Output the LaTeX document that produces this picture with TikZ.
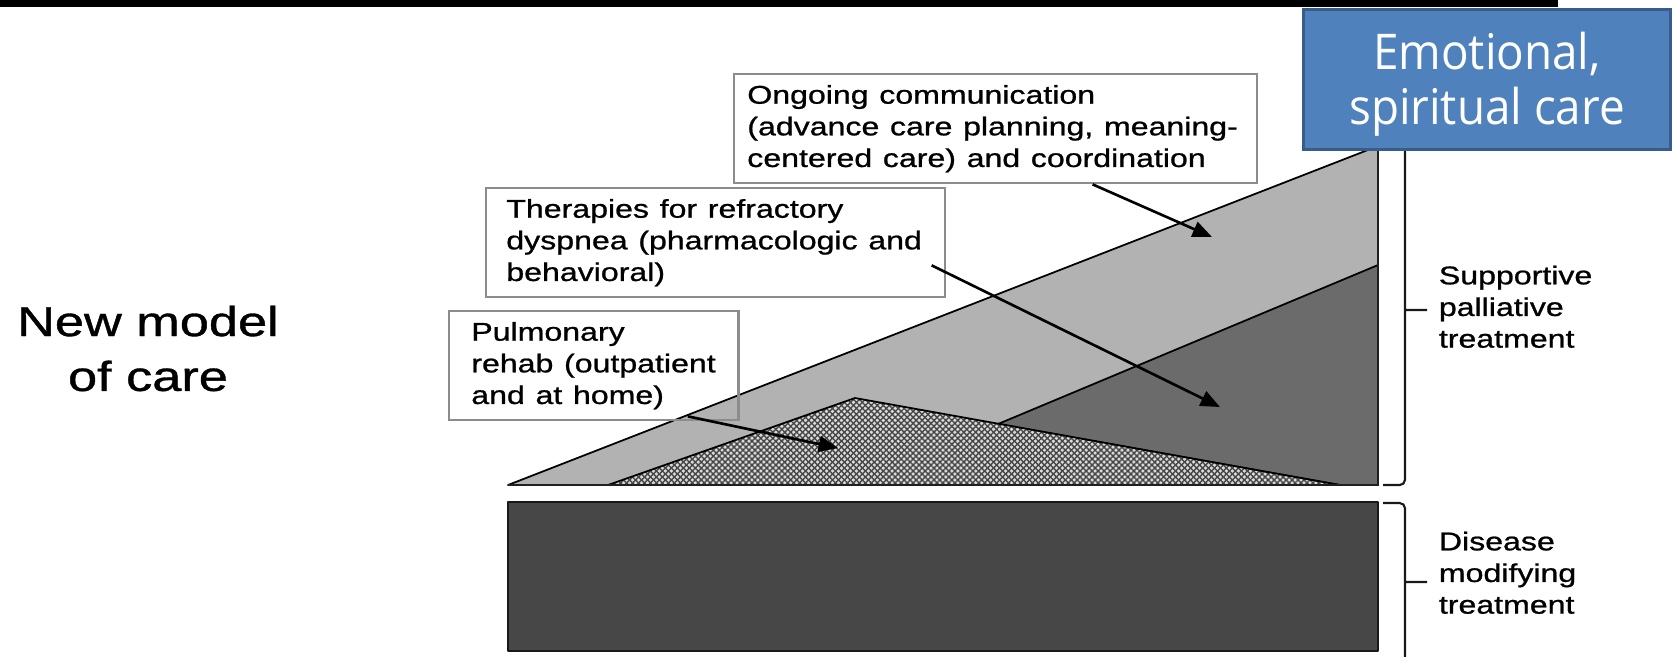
\documentclass[tikz,border=0pt]{standalone}
\usepackage{fontspec}
\usepackage{tikz}
\usetikzlibrary{arrows.meta,patterns.meta,calc}
\newfontfamily\figfont[FakeBold=0.8]{Liberation Sans}
\newfontfamily\slidefont{Open Sans}
\definecolor{zonelight}{gray}{0.70}
\definecolor{zonedark}{gray}{0.42}
\definecolor{zonedisease}{gray}{0.28}
\definecolor{hatchbg}{gray}{0.86}
\definecolor{hatchink}{gray}{0.28}
\definecolor{boxline}{gray}{0.55}
\definecolor{slideblue}{HTML}{4F81BD}
\definecolor{slideblueline}{HTML}{385D8A}

\begin{document}
\begin{tikzpicture}[x=0.01cm, y=-0.01cm,
	every node/.style={font=\figfont\fontsize{7.3pt}{9pt}\selectfont, inner sep=0pt},
	wide/.style={xscale=1.25},
	care/.style={wide, draw=boxline, line width=0.6pt, anchor=north west, align=left, inner ysep=0.11cm},
	edge/.style={line width=0.5pt, line join=round},
	bracket/.style={line width=0.6pt, gray!20!black, rounded corners=1.5pt},
	>={Triangle[length=5.5pt,width=4.5pt]}]
	\useasboundingbox (0,0) rectangle (1673,656);
	\filldraw[edge, fill=zonelight] (508,485) -- (1378,146) -- (1378,485) -- cycle;
	\filldraw[edge, fill=zonedark] (998,424) -- (1378,265) -- (1378,485) -- (1340,485) -- cycle;
	\path[fill=hatchbg,
		postaction={pattern={Lines[angle=45,distance=1.2pt,line width=0.4pt]}, pattern color=hatchink},
		postaction={pattern={Lines[angle=-45,distance=1.2pt,line width=0.4pt]}, pattern color=hatchink}]
		(608,485) -- (855,398) -- (1340,485) -- cycle;
	\draw[edge] (608,485) -- (855,398) -- (1340,485);
	\draw[line width=0.8pt, gray!25!black] (1378,146) -- (1378,485) -- (508,485);
	\filldraw[edge, fill=zonedisease, draw=gray!20!black] (508,502) rectangle (1378,651);

	\node[care, inner xsep=0.104cm, text width=3.97cm] (ongoing) at (733,73) {Ongoing communication\\(advance care planning, meaning-\\centered care) and coordination};
	\node[care, inner xsep=0.16cm, text width=3.35cm] (therapies) at (485,187) {Therapies for refractory\\dyspnea (pharmacologic and\\behavioral)};
	\node[care, inner xsep=0.176cm, text width=1.96cm] (rehab) at (448,310) {Pulmonary\\rehab (outpatient\\and at home)};

	\coordinate (ongoing tip) at (1212,237);
	\coordinate (therapies tip) at (1220,407);
	\coordinate (rehab tip) at (838,448);
	\draw[->, line width=0.75pt] ($(ongoing.south)+(97,0)$) -- (ongoing tip);
	\draw[->, line width=0.75pt] ($(therapies.south east)+(-15,-33)$) -- (therapies tip);
	\draw[->, line width=0.75pt] ($(rehab.south east)+(-52,-5)$) -- (rehab tip);

	\draw[bracket] (1383,135) -- (1405,135) -- (1405,485) -- (1383,485) (1405,310) -- (1427,310);
	\draw[bracket] (1383,503) -- (1405,503) -- (1405,665) (1405,582) -- (1427,582);
	\node[wide, anchor=north west, align=left] (supportive) at (1438,265) {Supportive\\palliative\\treatment};
	\node[wide, anchor=north west, align=left] (disease) at (1438,531) {Disease\\modifying\\treatment};
	\node[wide, anchor=north, align=center, font=\figfont\fontsize{11.9pt}{15.6pt}\selectfont] (model) at (148,305) {New model\\of care};

	\fill[black] (0,0) rectangle (1558,7);
	\node[anchor=north west, xscale=0.93, minimum width=3.946cm, minimum height=1.4cm, fill=slideblue, draw=slideblueline, line width=0.85pt, text=white, align=center, font=\slidefont\fontsize{14pt}{15.6pt}\selectfont] (spiritual) at (1302,8) {\rule{0pt}{0.47cm}Emotional,\\spiritual care};
\end{tikzpicture}
\end{document}
